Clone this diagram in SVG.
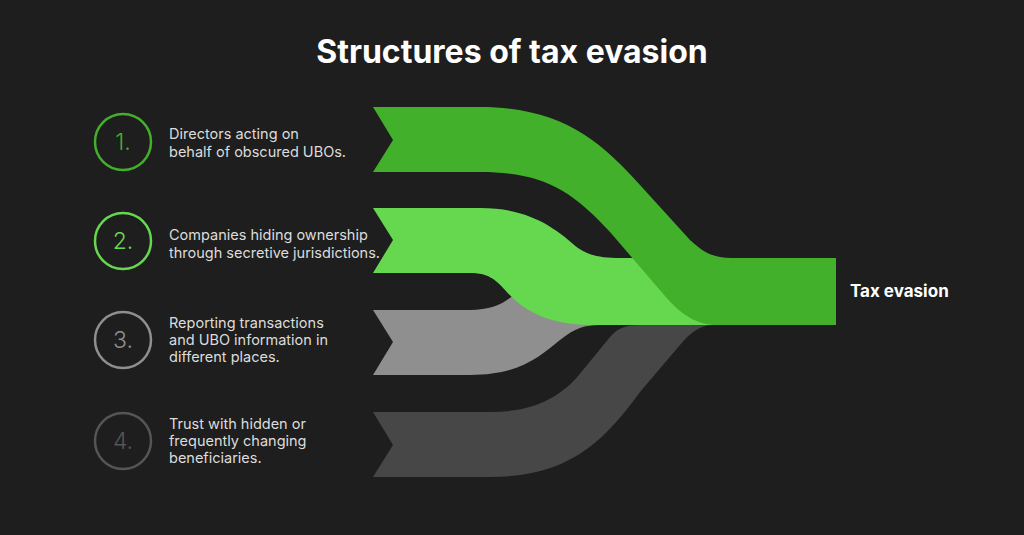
<svg xmlns="http://www.w3.org/2000/svg" width="1024" height="535" viewBox="0 0 1024 535">
<style>
.t{font-family:Inter,"Liberation Sans",sans-serif;font-size:14.5px;fill:#dcdcdc}
.n{font-family:Inter,"Liberation Sans",sans-serif;font-size:23px;font-weight:300;text-anchor:middle}
.c{fill:none;stroke-width:2.5}
</style>
<rect width="1024" height="535" fill="#1e1e1e"/>
<text x="512" y="63" text-anchor="middle" font-family="Inter,'Liberation Sans',sans-serif" font-size="32" font-weight="700" fill="#fff">Structures of tax evasion</text>
<g id="connectors">
<path fill="#474747" d="M373,412 L490,412 C530,412 560,400 583,370 L610,337 C618,328 625,325 640,325 L713,325 C700,325 690,333 680,345 L640,392 C605,440 570,477 490,477 L373,477 L393,445 Z"/>
<path fill="#8f8f8f" d="M373,310 L470,310 C495,310 508,302 520,288 L650,288 L650,325 L600,325 C585,325 575,328 560,340 C540,356 520,375 470,375 L373,375 L393,342 Z"/>
<path fill="#66d84f" d="M373,208 L480,208 C530,208 555,228 578,248 C590,256 602,258 620,258 L720,258 L720,325 L590,325 C548,325 522,310 505,290 C495,279 488,273 470,273 L373,273 L393,240 Z"/>
<path fill="#42b02a" d="M373,107 L480,107 C560,107 600,140 640,185 L690,240 C705,254 715,258 732,258 L836,258 L836,325 L717,325 C698,325 682,316 665,296 L610,232 C570,188 540,172 480,172 L373,172 L393,140 Z"/>
</g>
<g id="n1"><circle class="c" cx="123" cy="142" r="28" stroke="#42b02a"/><text class="n" x="123" y="150" fill="#42b02a">1.</text>
<text class="t" x="169" y="139">Directors acting on</text><text class="t" x="169" y="157">behalf of obscured UBOs.</text></g>
<g id="n2"><circle class="c" cx="123" cy="241" r="28" stroke="#66d84f"/><text class="n" x="123" y="249" fill="#66d84f">2.</text>
<text class="t" x="169" y="240">Companies hiding ownership</text><text class="t" x="169" y="258">through secretive jurisdictions.</text></g>
<g id="n3"><circle class="c" cx="123" cy="340" r="28" stroke="#8f8f8f"/><text class="n" x="123" y="348" fill="#8f8f8f">3.</text>
<text class="t" x="169" y="328">Reporting transactions</text><text class="t" x="169" y="345">and UBO information in</text><text class="t" x="169" y="362">different places.</text></g>
<g id="n4"><circle class="c" cx="123" cy="441" r="28" stroke="#555"/><text class="n" x="123" y="449" fill="#555">4.</text>
<text class="t" x="169" y="429">Trust with hidden or</text><text class="t" x="169" y="446">frequently changing</text><text class="t" x="169" y="463">beneficiaries.</text></g>
<g id="out"><text x="850" y="297" font-family="Inter,'Liberation Sans',sans-serif" font-size="17" font-weight="700" fill="#fff">Tax evasion</text></g>
</svg>
